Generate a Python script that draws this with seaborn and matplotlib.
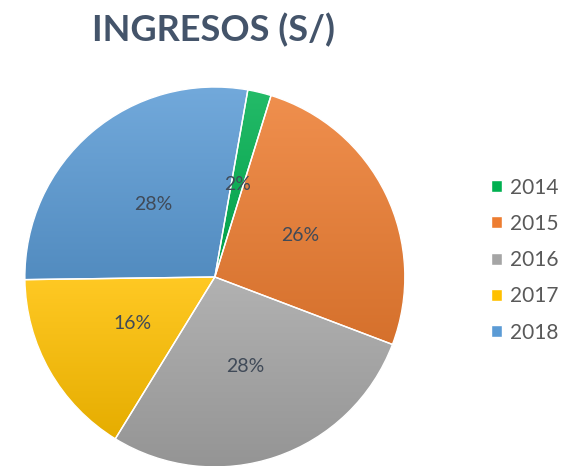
import seaborn as sns
import matplotlib.pyplot as plt
import matplotlib.colors as mcolors
from matplotlib.patches import Wedge
import numpy as np

sns.set_theme(style="white")
plt.rcParams['font.family'] = ['Lato', 'DejaVu Sans']

# data
years = ['2014', '2015', '2016', '2017', '2018']
shares = [2, 26, 28, 16, 28]
colors = ['#00B050', '#ED7D31', '#A5A5A5', '#FFC000', '#5B9BD5']

title_color = '#44546A'
label_color = '#404A58'

fig = plt.figure(figsize=(5.66, 4.66), dpi=100)
ax = fig.add_axes([0.0406, -0.0064, 0.678, 0.824])

wedges, texts, autotexts = ax.pie(
    shares, colors=colors, startangle=80, counterclock=False,
    autopct='%1.0f%%', pctdistance=0.5,
    wedgeprops=dict(linewidth=1, edgecolor='white'),
    textprops=dict(color=label_color, fontsize=14))

# Excel-like vertical gradient inside each slice
grad = np.linspace(0, 1, 256).reshape(-1, 1)
for w, c in zip(wedges, colors):
    base = np.array(mcolors.to_rgb(c))
    light = base + (1 - base) * 0.14
    dark = base * 0.90
    cmap = mcolors.LinearSegmentedColormap.from_list('g', [dark, light])
    bb = w.get_path().get_extents()
    im = ax.imshow(grad, cmap=cmap, aspect='auto', origin='lower',
                   extent=[bb.x0, bb.x1, bb.y0, bb.y1], zorder=w.get_zorder() + 0.1,
                   interpolation='bilinear')
    im.set_clip_path(w)
    # white edge back on top
    ax.add_patch(Wedge(w.center, w.r, w.theta1, w.theta2, facecolor='none',
                       edgecolor='white', linewidth=1, zorder=w.get_zorder() + 0.2))

for t in autotexts:
    t.set_zorder(10)

ax.set_xlim(-1.01, 1.01)
ax.set_ylim(-1.01, 1.01)
ax.set_aspect('equal')
ax.axis('off')

fig.text(0.378, 0.935, 'INGRESOS (S/)', ha='center', va='center',
         fontsize=26, fontweight='bold', color=title_color)

leg = fig.legend(wedges, years, loc='center left', bbox_to_anchor=(0.835, 0.442),
                 frameon=False, fontsize=15, handlelength=0.5, handleheight=0.5,
                 handletextpad=0.4, labelspacing=0.78)
for t in leg.get_texts():
    t.set_color('#595959')

fig.savefig('out.png', dpi=100)
